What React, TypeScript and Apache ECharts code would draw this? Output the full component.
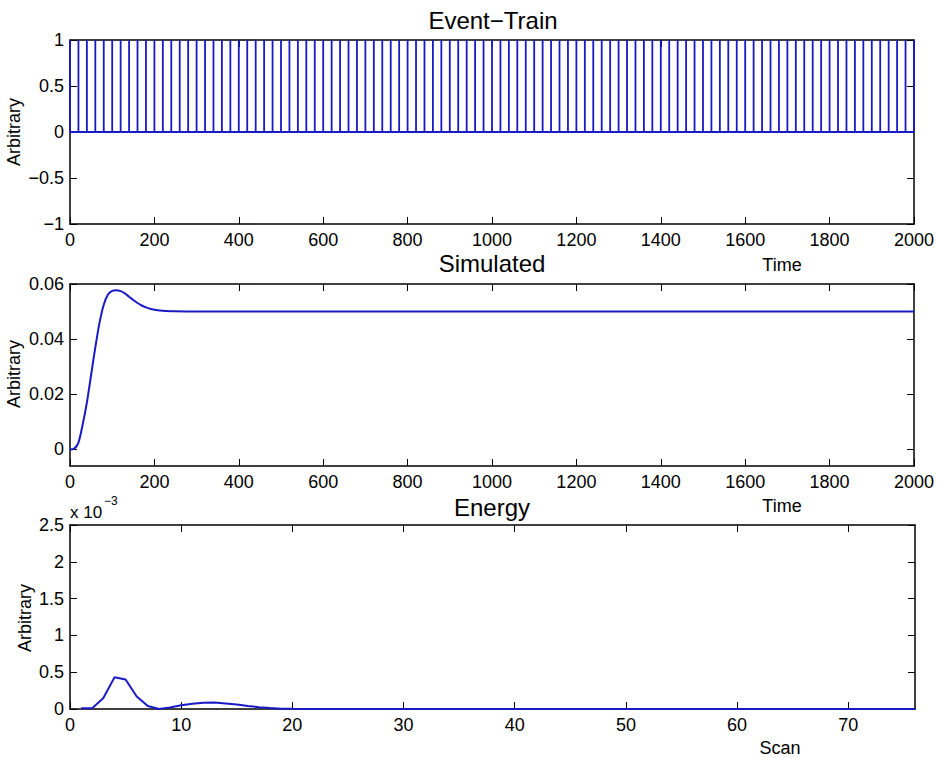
import React, { useEffect, useRef } from "react";
import * as echarts from "echarts";

// ---------- data ----------
const eventTimes = [
  0, 20, 40, 60, 80, 100, 120, 140, 160, 180,
  200, 220, 240, 260, 280, 300, 320, 340, 360, 380,
  400, 420, 440, 460, 480, 500, 520, 540, 560, 580,
  600, 620, 640, 660, 680, 700, 720, 740, 760, 780,
  800, 820, 840, 860, 880, 900, 920, 940, 960, 980,
  1000, 1020, 1040, 1060, 1080, 1100, 1120, 1140, 1160, 1180,
  1200, 1220, 1240, 1260, 1280, 1300, 1320, 1340, 1360, 1380,
  1400, 1420, 1440, 1460, 1480, 1500, 1520, 1540, 1560, 1580,
  1600, 1620, 1640, 1660, 1680, 1700, 1720, 1740, 1760, 1780,
  1800, 1820, 1840, 1860, 1880, 1900, 1920, 1940, 1960, 1980,
  2000,
];
const eventHeight = 1;

const simTime = [0, 10, 20, 30, 40, 50, 60, 70, 80, 90, 100, 110, 120, 130, 140, 150, 160, 170, 180, 190, 200, 220, 250, 300, 2000];
const simValue = [0, 0.0003, 0.0025, 0.009, 0.017, 0.027, 0.037, 0.046, 0.0525, 0.0562, 0.0575, 0.0577, 0.0574, 0.0566, 0.0554, 0.0542, 0.0531, 0.0522, 0.0515, 0.051, 0.0507, 0.0503, 0.0501, 0.05, 0.05];

const scan = [
  1, 2, 3, 4, 5, 6, 7, 8, 9, 10, 11, 12, 13, 14, 15, 16, 17, 18, 19, 20,
  21, 22, 23, 24, 25, 26, 27, 28, 29, 30, 31, 32, 33, 34, 35, 36, 37, 38, 39, 40,
  41, 42, 43, 44, 45, 46, 47, 48, 49, 50, 51, 52, 53, 54, 55, 56, 57, 58, 59, 60,
  61, 62, 63, 64, 65, 66, 67, 68, 69, 70, 71, 72, 73, 74, 75, 76,
];
// energy in units of 1e-3
const energy = [
  0.01, 0.01, 0.15, 0.43, 0.4, 0.17, 0.04, 0.0, 0.02, 0.05,
  0.07, 0.085, 0.087, 0.075, 0.06, 0.04, 0.025, 0.012, 0.005, 0.002,
  0, 0, 0, 0, 0, 0, 0, 0, 0, 0,
  0, 0, 0, 0, 0, 0, 0, 0, 0, 0,
  0, 0, 0, 0, 0, 0, 0, 0, 0, 0,
  0, 0, 0, 0, 0, 0, 0, 0, 0, 0,
  0, 0, 0, 0, 0, 0, 0, 0, 0, 0,
  0, 0, 0, 0, 0, 0,
];

const timeTicks = [0, 200, 400, 600, 800, 1000, 1200, 1400, 1600, 1800, 2000];
const eventYTicks = [-1, -0.5, 0, 0.5, 1];
const simYTicks = [0, 0.02, 0.04, 0.06];
const scanTicks = [0, 10, 20, 30, 40, 50, 60, 70];
const energyYTicks = [0, 0.5, 1, 1.5, 2, 2.5];

const titles = ["Event\u2212Train", "Simulated", "Energy"];

// ---------- styling ----------
const FONT = "Liberation Sans";
const BLUE = "#1a1ac4";
const fmt = (v: number) => String(v).replace("-", "\u2212");

const grids = [
  { left: 70, right: 22, top: 40, height: 184 },
  { left: 70, right: 22, top: 284, height: 182 },
  { left: 70, right: 22, top: 525, height: 184 },
];

function xAxes(gridIndex: number, min: number, max: number, ticks: number[]) {
  const common = {
    type: "value",
    gridIndex,
    min,
    max,
    axisLine: { show: true, onZero: false, lineStyle: { color: "#000", width: 1.5 } },
    axisTick: { show: true, inside: true, length: 7, customValues: ticks, lineStyle: { color: "#000", width: 1 } },
    splitLine: { show: false },
  };
  return [
    {
      ...common,
      position: "bottom",
      axisLabel: {
        show: true,
        customValues: ticks,
        margin: 7,
        color: "#000",
        fontFamily: FONT,
        fontSize: 18,
        formatter: fmt,
      },
    },
    { ...common, position: "top", axisLabel: { show: false } },
  ];
}

function yAxes(gridIndex: number, min: number, max: number, ticks: number[]) {
  const common = {
    type: "value",
    gridIndex,
    min,
    max,
    axisLine: { show: true, onZero: false, lineStyle: { color: "#000", width: 1.5 } },
    axisTick: { show: true, inside: true, length: 7, customValues: ticks, lineStyle: { color: "#000", width: 1 } },
    splitLine: { show: false },
  };
  return [
    {
      ...common,
      position: "left",
      axisLabel: {
        show: true,
        customValues: ticks,
        margin: 6,
        color: "#000",
        fontFamily: FONT,
        fontSize: 18,
        formatter: fmt,
      },
    },
    { ...common, position: "right", axisLabel: { show: false } },
  ];
}

const txt = (x: number, y: number, text: string, size: number, rotation = 0, align = "center") => ({
  type: "text",
  x,
  y,
  rotation,
  style: {
    text,
    fill: "#000",
    fontFamily: FONT,
    fontSize: size,
    textAlign: align,
    textVerticalAlign: "middle",
  },
});

export default function App() {
  const ref = useRef<HTMLDivElement>(null);

  useEffect(() => {
    if (!ref.current) return;
    const chart = echarts.init(ref.current, null, { renderer: "svg" });

    const eventData: number[][] = [];
    eventTimes.forEach((t) => {
      eventData.push([t, 0], [t, eventHeight], [t, 0]);
    });

    const option: any = {
      animation: false,
      backgroundColor: "#fff",
      grid: grids,
      xAxis: [
        ...xAxes(0, 0, 2000, timeTicks),
        ...xAxes(1, 0, 2000, timeTicks),
        ...xAxes(2, 0, 76, scanTicks),
      ],
      yAxis: [
        ...yAxes(0, -1, 1, eventYTicks),
        ...yAxes(1, -0.006, 0.06, simYTicks),
        ...yAxes(2, 0, 2.5, energyYTicks),
      ],
      series: [
        {
          type: "line",
          xAxisIndex: 0,
          yAxisIndex: 0,
          data: eventData,
          showSymbol: false,
          lineStyle: { color: BLUE, width: 1.8 },
        },
        {
          type: "line",
          xAxisIndex: 2,
          yAxisIndex: 2,
          data: simTime.map((t, i) => [t, simValue[i]]),
          showSymbol: false,
          smooth: 0.3,
          lineStyle: { color: BLUE, width: 2 },
        },
        {
          type: "line",
          xAxisIndex: 4,
          yAxisIndex: 4,
          data: scan.map((s, i) => [s, energy[i]]),
          showSymbol: false,
          lineStyle: { color: BLUE, width: 2 },
        },
      ],
      graphic: [
        txt(493, 20, titles[0], 24),
        txt(492, 263, titles[1], 24),
        txt(492, 507, titles[2], 24),
        txt(782, 265, "Time", 18),
        txt(782, 506, "Time", 18),
        txt(780, 748, "Scan", 18),
        txt(14, 132, "Arbitrary", 18, Math.PI / 2),
        txt(14, 374, "Arbitrary", 18, Math.PI / 2),
        txt(25, 618, "Arbitrary", 18, Math.PI / 2),
        txt(70, 512, "x 10", 17, 0, "left"),
        txt(104, 501, "\u22123", 12, 0, "left"),
      ],
    };

    chart.setOption(option);
    return () => chart.dispose();
  }, []);

  return (
    <div
      ref={ref}
      style={{ position: "fixed", left: 0, top: 0, width: 937, height: 758, background: "#fff" }}
    />
  );
}
